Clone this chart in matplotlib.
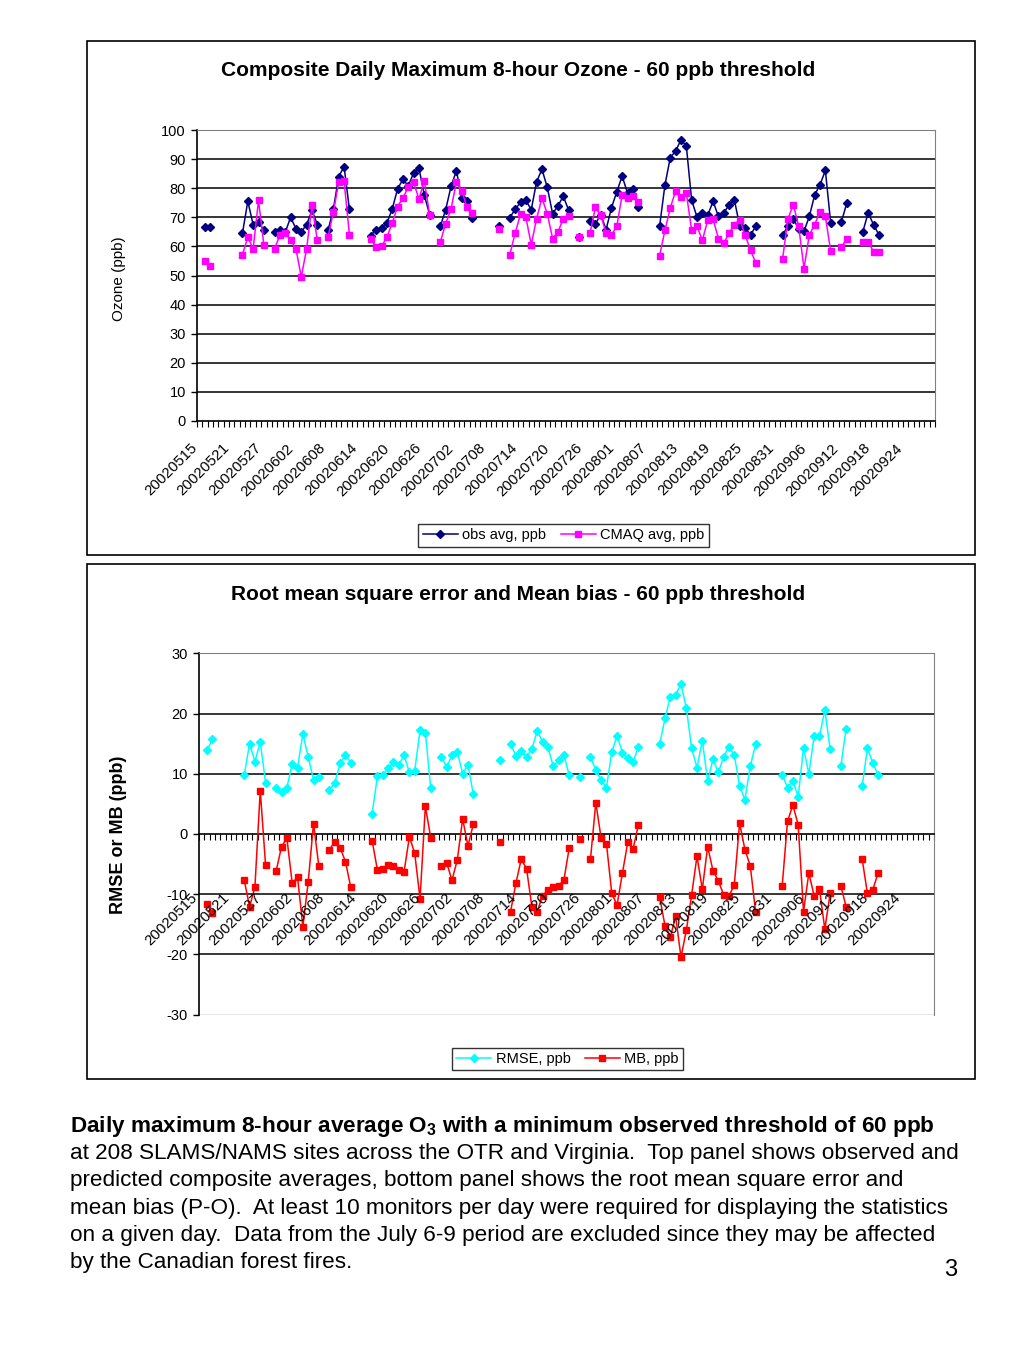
import numpy as np
import pandas as pd
import matplotlib
matplotlib.use('Agg')
import matplotlib.pyplot as plt
from matplotlib.patches import Rectangle
from matplotlib.lines import Line2D
from matplotlib.transforms import ScaledTranslation

plt.rcParams['font.family'] = ['Liberation Sans', 'DejaVu Sans']
plt.rcParams['mathtext.fontset'] = 'custom'
plt.rcParams['mathtext.rm'] = 'Liberation Sans'
plt.rcParams['mathtext.bf'] = 'Liberation Sans:bold'
plt.rcParams['axes.unicode_minus'] = False

W, H = 1024, 1365

# days with enough monitors (axis runs May 15 - Sep 29, 2002)
dates = ['20020516', '20020517',
         '20020523', '20020524', '20020525', '20020526', '20020527',
         '20020529', '20020530', '20020531', '20020601', '20020602', '20020603', '20020604', '20020605', '20020606',
         '20020608', '20020609', '20020610', '20020611', '20020612',
         '20020616', '20020617', '20020618', '20020619', '20020620', '20020621', '20020622', '20020623',
         '20020624', '20020625', '20020626', '20020627',
         '20020629', '20020630', '20020701', '20020702', '20020703', '20020704', '20020705',
         '20020710',
         '20020712', '20020713', '20020714', '20020715', '20020716', '20020717', '20020718', '20020719',
         '20020720', '20020721', '20020722', '20020723',
         '20020725',
         '20020727', '20020728', '20020729', '20020730', '20020731', '20020801', '20020802', '20020803',
         '20020804', '20020805',
         '20020809', '20020810', '20020811', '20020812', '20020813', '20020814', '20020815', '20020816',
         '20020817', '20020818', '20020819', '20020820', '20020821', '20020822', '20020823', '20020824',
         '20020825', '20020826', '20020827',
         '20020901', '20020902', '20020903', '20020904', '20020905', '20020906', '20020907', '20020908',
         '20020909', '20020910',
         '20020912', '20020913',
         '20020916', '20020917', '20020918', '20020919']

obs = [66.6, 66.6,
       64.5, 75.5, 67.5, 68.4, 65.5,
       65.1, 65.5, 64.8, 70.0, 66.1, 65.0, 67.5, 72.4, 67.5,
       65.5, 72.8, 84.0, 87.4, 72.8,
       63.7, 65.8, 66.2, 68.0, 72.8, 79.7, 83.1, 80.8,
       85.2, 86.9, 77.7, 70.9,
       66.9, 72.6, 80.6, 86.0, 76.8, 75.5, 69.7,
       67.1,
       69.9, 72.8, 75.1, 75.8, 72.6, 82.2, 86.5, 80.3,
       71.2, 74.0, 77.2, 72.4,
       63.3,
       68.6, 67.8, 70.9, 65.8, 73.3, 78.8, 84.2, 78.3,
       79.8, 73.5,
       66.9, 81.1, 90.5, 92.8, 96.6, 94.5, 75.8, 70.1,
       71.5, 70.7, 75.5, 70.3, 71.5, 74.3, 75.8, 66.9,
       66.3, 64.0, 66.9,
       64.0, 66.9, 69.5, 66.1, 65.2, 70.3, 77.7, 81.2,
       86.1, 68.0,
       68.4, 74.9,
       65.0, 71.5, 67.5, 64.0]

cmaq = [54.9, 53.4,
        57.2, 63.1, 59.2, 75.8, 60.6,
        59.2, 63.8, 64.6, 62.1, 59.2, 49.5, 59.2, 74.2, 62.1,
        63.1, 71.8, 82.0, 82.5, 64.0,
        62.6, 59.7, 60.0, 63.1, 68.0, 73.7, 76.6, 80.3,
        82.0, 76.3, 82.6, 70.9,
        61.5, 67.8, 72.8, 82.1, 79.2, 73.4, 71.5,
        66.0,
        57.2, 64.6, 71.1, 70.0, 60.6, 69.5, 76.6, 71.2,
        62.7, 65.0, 69.5, 70.5,
        63.2,
        64.6, 73.4, 70.7, 64.6, 64.0, 66.9, 77.7, 76.6,
        77.2, 75.3,
        56.8, 65.5, 73.2, 79.1, 76.9, 78.3, 65.5, 66.9,
        62.1, 69.0, 69.4, 62.7, 61.0, 64.6, 67.5, 69.2,
        64.0, 58.7, 54.3,
        55.7, 69.4, 74.3, 67.1, 52.4, 64.0, 67.5, 71.9,
        70.3, 58.3,
        59.7, 62.7,
        61.5, 61.5, 58.2, 58.2]

rmse = [13.9, 15.7,
        9.8, 15.0, 12.0, 15.3, 8.5,
        7.6, 6.9, 7.7, 11.6, 11.0, 16.6, 12.8, 9.0, 9.5,
        7.3, 8.5, 11.7, 13.1, 11.8,
        3.3, 9.6, 9.8, 10.9, 11.9, 11.4, 13.1, 10.2,
        10.5, 17.2, 16.8, 7.7,
        12.8, 11.1, 13.1, 13.6, 10.0, 11.5, 6.6,
        12.2,
        14.9, 13.0, 13.7, 12.8, 14.1, 17.1, 15.3, 14.4,
        11.3, 12.2, 13.1, 9.8,
        9.5,
        12.8, 10.6, 9.0, 7.7, 13.6, 16.3, 13.5, 12.6,
        11.9, 14.5,
        14.9, 19.2, 22.8, 23.1, 24.9, 20.9, 14.2, 11.0,
        15.5, 8.8, 12.4, 10.2, 12.8, 14.5, 13.1, 8.0,
        5.7, 11.2, 14.9,
        9.8, 7.7, 8.8, 6.2, 14.3, 10.0, 16.2, 16.2,
        20.6, 14.1,
        11.2, 17.5,
        7.9, 14.2, 11.8, 9.8]

mb = [-11.7, -13.2,
      -7.7, -12.1, -8.8, 7.2, -5.2,
      -6.1, -2.1, -0.7, -8.2, -7.2, -15.4, -8.0, 1.7, -5.3,
      -2.6, -1.3, -2.3, -4.6, -8.9,
      -1.1, -6.0, -5.8, -5.2, -5.3, -6.0, -6.3, -0.5,
      -3.2, -10.8, 4.6, -0.6,
      -5.3, -4.8, -7.7, -4.3, 2.5, -2.0, 1.6,
      -1.3,
      -12.9, -8.2, -4.2, -5.8, -12.1, -12.9, -10.3, -9.3,
      -8.9, -8.6, -7.7, -2.4,
      -0.9,
      -4.2, 5.2, -0.7, -1.6, -9.9, -11.8, -6.5, -1.4,
      -2.5, 1.5,
      -10.5, -15.3, -17.1, -13.7, -20.5, -16.0, -10.1, -3.7,
      -9.2, -2.1, -6.1, -7.8, -10.1, -10.3, -8.5, 1.8,
      -2.6, -5.3, -12.9,
      -8.6, 2.1, 4.8, 1.5, -12.9, -6.5, -10.3, -9.2,
      -15.8, -9.9,
      -8.6, -12.1,
      -4.1, -9.9, -9.3, -6.5]

caption_lines = [
    'at 208 SLAMS/NAMS sites across the OTR and Virginia.  Top panel shows observed and',
    'predicted composite averages, bottom panel shows the root mean square error and',
    'mean bias (P-O).  At least 10 monitors per day were required for displaying the statistics',
    'on a given day.  Data from the July 6-9 period are excluded since they may be affected',
    'by the Canadian forest fires.',
]

axis_days = pd.date_range('2002-05-15', '2002-09-29')
day_labels = list(axis_days.strftime('%Y%m%d'))
xpos = np.arange(len(axis_days))


def on_axis(vals):
    s = pd.Series(vals, index=pd.to_datetime(dates, format='%Y%m%d'))
    return s.reindex(axis_days).values


def fx(x):
    return x / W


def fy(y):
    return 1 - y / H


fig = plt.figure(figsize=(W / 100, H / 100), dpi=100)

# chart frames
for y0, y1 in [(41, 555), (564, 1079)]:
    fig.patches.append(Rectangle((fx(87), fy(y1)), fx(975) - fx(87), fy(y0) - fy(y1),
                                 transform=fig.transFigure, fill=False, ec='black', lw=1.2))


def style_axes(ax, yticks, gridvals):
    ax.set_xlim(-0.5, len(axis_days) - 0.5)
    ax.set_ylim(yticks[0], yticks[-1])
    ax.set_yticks(yticks)
    ax.tick_params(axis='y', labelsize=10.5, length=4, width=1, direction='out', pad=4)
    ax.set_xticks(np.arange(-0.5, len(axis_days), 1), minor=True)
    ax.set_xticks([])
    ax.tick_params(axis='x', which='minor', length=4, width=0.8, direction='out')
    for g in gridvals:
        ax.axhline(g, color='black', lw=1.1, zorder=1)
    ax.spines['top'].set_color('#808080')
    ax.spines['right'].set_color('#808080')
    ax.spines['left'].set_linewidth(1.2)
    ax.spines['bottom'].set_linewidth(1.2)


# ---- top panel
ax1 = fig.add_axes([fx(197), fy(421), fx(935) - fx(197), fy(130) - fy(421)])
style_axes(ax1, np.arange(0, 101, 10), range(10, 100, 10))
ax1.plot(xpos, on_axis(obs), color='#000080', lw=1.1, marker='D', ms=4.2, zorder=3)
ax1.plot(xpos, on_axis(cmaq), color='#ff00ff', lw=1.1, marker='s', ms=4.0, zorder=4)
ax1.set_ylabel('Ozone (ppb)', fontsize=11)
ax1.yaxis.set_label_coords((126 - 197) / 738, 0.49)
off1 = ScaledTranslation(-5 / 100, -25 / 100, fig.dpi_scale_trans)
for i in range(0, len(axis_days), 6):
    ax1.text(i, 0, day_labels[i], transform=ax1.get_xaxis_transform() + off1,
             rotation=45, rotation_mode='anchor', ha='right', va='center', fontsize=10.8)
fig.text(fx(518), fy(71), 'Composite Daily Maximum 8-hour Ozone - 60 ppb threshold',
         ha='center', va='center', fontsize=15, fontweight='bold')
h1 = [Line2D([], [], color='#000080', lw=1.1, marker='D', ms=4.2),
      Line2D([], [], color='#ff00ff', lw=1.1, marker='s', ms=4.0)]
fig.legend(h1, ['obs avg, ppb', 'CMAQ avg, ppb'], loc='center', ncol=2,
           bbox_to_anchor=(fx(563.5), fy(535.5)), fontsize=10.5, frameon=True, fancybox=False,
           edgecolor='black', handlelength=2.4, handletextpad=0.3, columnspacing=1.0,
           borderpad=0.3).get_frame().set_linewidth(1.0)

# ---- bottom panel
ax2 = fig.add_axes([fx(199), fy(1014.5), fx(934) - fx(199), fy(653.3) - fy(1014.5)])
style_axes(ax2, np.arange(-30, 31, 10), [-20, -10, 10, 20])
ax2.axhline(-30, color='#808080', lw=1.0, zorder=1)
ax2.spines['bottom'].set_position(('data', 0))
ax2.plot(xpos, on_axis(rmse), color='#00ffff', lw=1.1, marker='D', ms=4.2, zorder=3)
ax2.plot(xpos, on_axis(mb), color='#ff0000', lw=1.1, marker='s', ms=4.0, zorder=4)
ax2.set_ylabel('RMSE or MB (ppb)', fontsize=13, fontweight='bold')
ax2.yaxis.set_label_coords((127 - 199) / 735, 0.497)
off2 = ScaledTranslation(-7 / 100, -62 / 100, fig.dpi_scale_trans)
for i in range(0, len(axis_days), 6):
    ax2.text(i, 0, day_labels[i], transform=ax2.transData + off2,
             rotation=45, rotation_mode='anchor', ha='right', va='center', fontsize=10.8, zorder=5)
fig.text(fx(518), fy(594), 'Root mean square error and Mean bias - 60 ppb threshold',
         ha='center', va='center', fontsize=15, fontweight='bold')
h2 = [Line2D([], [], color='#00ffff', lw=1.1, marker='D', ms=4.2),
      Line2D([], [], color='#ff0000', lw=1.1, marker='s', ms=4.0)]
fig.legend(h2, ['RMSE, ppb', 'MB, ppb'], loc='center', ncol=2,
           bbox_to_anchor=(fx(567.5), fy(1059)), fontsize=10.5, frameon=True, fancybox=False,
           edgecolor='black', handlelength=2.4, handletextpad=0.3, columnspacing=1.0,
           borderpad=0.3).get_frame().set_linewidth(1.0)

# ---- caption
fig.text(fx(70), fy(1132), r'Daily maximum 8-hour average O$_{\mathbf{3}}$ with a minimum observed threshold of 60 ppb',
         ha='left', va='baseline', fontsize=16.2, fontweight='bold')
for k, line in enumerate(caption_lines):
    fig.text(fx(70), fy(1159 + 27.3 * k), line, ha='left', va='baseline', fontsize=16.2)
fig.text(fx(951), fy(1276), '3', ha='center', va='baseline', fontsize=17)

fig.savefig('out.png', dpi=100)
